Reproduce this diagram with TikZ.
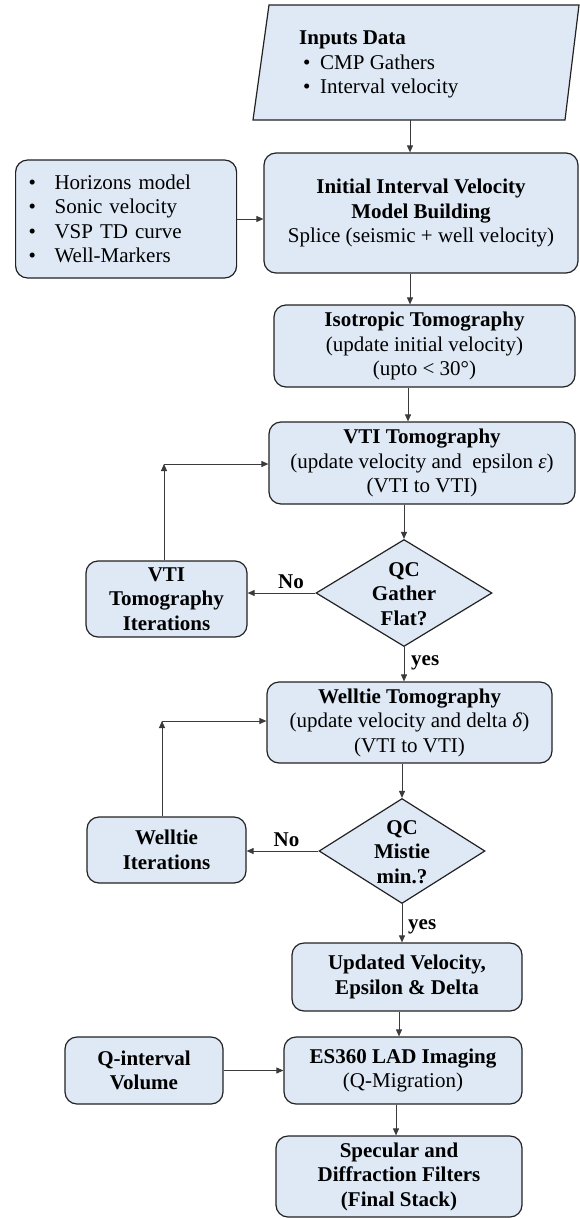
\documentclass[tikz,border=0pt]{standalone}
\usepackage{fontspec}
\setmainfont{Liberation Serif}
\usetikzlibrary{shapes.geometric,arrows.meta,calc}
\definecolor{boxfill}{HTML}{DEE9F5}
\definecolor{edgecol}{HTML}{222222}
\definecolor{conn}{HTML}{3A3A3A}
\begin{document}
\begin{tikzpicture}[x=1pt,y=-1pt,
  every node/.style={font=\fontsize{21}{24.5}\selectfont},
  box/.style={draw=edgecol, fill=boxfill, line width=1.2pt, rounded corners=12pt, align=center, inner sep=0pt},
  dia/.style={diamond, draw=edgecol, fill=boxfill, line width=1.2pt, inner sep=0pt},
  btext/.style={align=center, inner sep=0pt, font=\fontsize{21}{24.5}\selectfont\bfseries},
  arr/.style={draw=conn, line width=0.9pt, -{Triangle[length=7pt,width=6pt]}},
  lbl/.style={inner sep=0pt, font=\fontsize{21}{24.5}\selectfont\bfseries}
]
\useasboundingbox (0,0) rectangle (580,1218);

% input parallelogram
\coordinate (p1) at (269,5);
\coordinate (p2) at (579,5);
\coordinate (p3) at (565,120);
\coordinate (p4) at (253,120);
\draw[fill=boxfill, draw=edgecol, line width=1.2pt] (p1) -- (p2) -- (p3) -- (p4) -- cycle;
\node[anchor=west, align=left, inner sep=0pt] (inp) at (299,64.5)
  {\textbf{Inputs Data}\\\hspace*{4pt}\makebox[17pt][l]{\textbullet}CMP Gathers\\\hspace*{4pt}\makebox[17pt][l]{\textbullet}Interval velocity};
\coordinate (inpb) at (410,120);

% left input list
\node[box, anchor=west, text width=195pt, align=left, minimum height=118pt, inner xsep=13pt] (hor) at (15,219)
  {\makebox[26pt][l]{\textbullet}Horizons model\\\makebox[26pt][l]{\textbullet}Sonic velocity\\\makebox[26pt][l]{\textbullet}VSP TD curve\\\makebox[26pt][l]{\textbullet}Well-Markers};

% main column
\node[box, minimum width=314pt, minimum height=120pt] (init) at (421,213)
  {\textbf{Initial Interval Velocity}\\\textbf{Model Building}\\Splice (seismic + well velocity)};
\node[box, minimum width=301pt, minimum height=82pt] (iso) at (424.5,346)
  {\textbf{Isotropic Tomography}\\(update initial velocity)\\(upto < 30°)};
\node[box, minimum width=306pt, minimum height=82pt] (vti) at (422,463)
  {\textbf{VTI Tomography}\\(update velocity and\ \ epsilon \textit{ε})\\(VTI to VTI)};
\node[dia, minimum width=176pt, minimum height=107pt] (d1) at (404,593) {};
\node[btext] (d1t) at (404,594) {QC\\Gather\\Flat?};
\node[box, btext, draw=edgecol, fill=boxfill, minimum width=161pt, minimum height=76pt] (vtiiter) at (166.5,599)
  {VTI\\Tomography\\Iterations};
\node[box, minimum width=285pt, minimum height=81pt] (wt) at (409.5,722.5)
  {\textbf{Welltie Tomography}\\(update velocity and delta \textit{δ})\\(VTI to VTI)};
\node[dia, minimum width=166pt, minimum height=105pt] (d2) at (402,851) {};
\node[btext] (d2t) at (402,852) {QC\\Mistie\\min.?};
\node[box, btext, draw=edgecol, fill=boxfill, minimum width=159pt, minimum height=66pt] (wtiter) at (166.5,850)
  {Welltie\\Iterations};
\node[box, btext, draw=edgecol, fill=boxfill, minimum width=230pt, minimum height=68pt] (upd) at (407,977)
  {Updated Velocity,\\Epsilon \& Delta};
\node[box, minimum width=238pt, minimum height=67pt] (es) at (403,1070.5)
  {\textbf{ES360 LAD Imaging}\\(Q-Migration)};
\node[box, btext, draw=edgecol, fill=boxfill, minimum width=158pt, minimum height=67pt] (qint) at (144,1070.5)
  {Q-interval\\Volume};
\node[box, btext, draw=edgecol, fill=boxfill, minimum width=246pt, minimum height=81pt] (fin) at (399,1176.5)
  {Specular and\\Diffraction Filters\\(Final Stack)};

% helper coordinates
\coordinate (c1) at (410,0);
\coordinate (c2) at (408,0);
\coordinate (c3) at (399,0);
\coordinate (c4) at (396,0);
\coordinate (k1) at (164,464);
\coordinate (k2) at (162,721);

% connectors
\draw[arr] (inpb) -- (inpb |- init.north);
\draw[arr] (hor.east) -- (hor.east -| init.west);
\draw[arr] (init.south -| c1) -- (iso.north -| c1);
\draw[arr] (iso.south -| c2) -- (vti.north -| c2);
\draw[arr] (vti.south -| d1.north) -- (d1.north);
\draw[arr] (d1.west) -- (d1.west -| vtiiter.east);
\draw[arr] (vtiiter.north -| k1) -- (k1);
\draw[arr] (k1) -- (k1 -| vti.west);
\draw[arr] (d1.south) -- (d1.south |- wt.north);
\draw[arr] (wt.south -| d2.north) -- (d2.north);
\draw[arr] (d2.west) -- (d2.west -| wtiter.east);
\draw[arr] (wtiter.north -| k2) -- (k2);
\draw[arr] (k2) -- (k2 -| wt.west);
\draw[arr] (d2.south) -- (d2.south |- upd.north);
\draw[arr] (upd.south -| c3) -- (es.north -| c3);
\draw[arr] (qint.east) -- (qint.east -| es.west);
\draw[arr] (es.south -| c4) -- (fin.north -| c4);

% labels
\node[lbl] (no1) at (291,582) {No};
\node[lbl, anchor=west] (yes1) at (411,663) {yes};
\node[lbl] (no2) at (286.5,840) {No};
\node[lbl, anchor=west] (yes2) at (408,927) {yes};
\end{tikzpicture}
\end{document}
